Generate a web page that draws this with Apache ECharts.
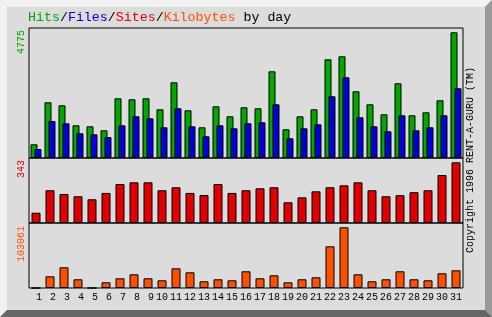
<!DOCTYPE html>
<html>
<head>
<meta charset="utf-8">
<script src="https://cdn.jsdelivr.net/npm/echarts@6/dist/echarts.min.js"></script>
<style>
html,body{margin:0;padding:0;background:#dcdcdc;}
#c{width:492px;height:317px;}
</style>
</head>
<body>
<div id="c"></div>
<script>
const days = ['1','2','3','4','5','6','7','8','9','10','11','12','13','14','15','16','17','18','19','20','21','22','23','24','25','26','27','28','29','30','31'];
const hits = [520, 2116, 2002, 1242, 1204, 1052, 2268, 2230, 2268, 1850, 2876, 1812, 1166, 1964, 1584, 1926, 1888, 3294, 1090, 1584, 1850, 3750, 3864, 2534, 2040, 1660, 2838, 1622, 1736, 2192, 4775];
const files = [342, 1406, 1318, 938, 900, 798, 1242, 1584, 1508, 1166, 1888, 1204, 824, 1242, 1128, 1318, 1356, 2040, 748, 1128, 1280, 2344, 3066, 1546, 1204, 1014, 1622, 1052, 1166, 1622, 2648];
const sites = [58, 185, 164, 151, 134, 170, 220, 230, 230, 185, 202, 170, 158, 220, 170, 185, 196, 202, 117, 145, 179, 202, 213, 230, 185, 151, 157, 174, 185, 271, 343];
const kbytes = [0, 19870, 35150, 14770, 0, 9680, 16470, 23260, 16470, 13070, 33450, 26660, 11380, 14770, 13070, 28360, 16470, 21560, 9680, 14770, 18170, 70800, 103061, 23260, 11380, 14770, 28360, 14770, 13070, 24960, 30050];
const maxLabels = [String(Math.max(...hits)), String(Math.max(...sites)), String(Math.max(...kbytes))];
const titleParts = ['Hits', 'Files', 'Sites', 'Kilobytes', ' by day'];
const sideText = 'Copyright 1996 RENT-A-GURU (TM)';

const C = {hits:'#00a800', files:'#0000d8', sites:'#e00000', kb:'#ff5000'};
const mono = '"Liberation Mono", "DejaVu Sans Mono", monospace';
const chart = echarts.init(document.getElementById('c'), null, {renderer:'canvas'});

const L = 29, W = 434;
const grids = [
  {left:L, top:28, width:W, height:130},
  {left:L, top:158, width:W, height:65},
  {left:L, top:223, width:W, height:65}
].map(g => Object.assign(g, {show:true, borderColor:'#000', borderWidth:1, backgroundColor:'transparent', containLabel:false}));

function xAx(i, showLabel){
  return {type:'category', gridIndex:i, data:days, boundaryGap:true,
    axisLine:{show:false}, axisTick:{show:false}, splitLine:{show:false},
    axisLabel:{show:showLabel, color:'#000', fontFamily:mono, fontSize:10, margin:4, interval:0,
      formatter: v => v.length < 2 ? ' ' + v : v}};
}
function yAx(i, max){
  return {type:'value', gridIndex:i, min:0, max:max, axisLine:{show:false}, axisTick:{show:false},
    splitLine:{show:false}, axisLabel:{show:false}};
}
const bStyle = c => ({color:c, borderColor:'#000', borderWidth:1});

const option = {
  backgroundColor:'#dcdcdc',
  animation:false,
  title:{
    left:28, top:11, padding:0,
    text: `{g|${titleParts[0]}}{k|/}{b|${titleParts[1]}}{k|/}{r|${titleParts[2]}}{k|/}{o|${titleParts[3]}}{k|${titleParts[4]}}`,
    textStyle:{fontFamily:mono, fontSize:13.3, fontWeight:'normal',
      rich:{
        g:{color:C.hits, fontFamily:mono, fontSize:13.3},
        b:{color:C.files, fontFamily:mono, fontSize:13.3},
        r:{color:C.sites, fontFamily:mono, fontSize:13.3},
        o:{color:C.kb, fontFamily:mono, fontSize:13.3},
        k:{color:'#000', fontFamily:mono, fontSize:13.3}
      }}
  },
  grid: grids,
  xAxis:[xAx(0,false), xAx(1,false), xAx(2,true)],
  yAxis:[yAx(0, Math.max(...hits)*130/125.7), yAx(1, Math.max(...sites)*65/60.7), yAx(2, Math.max(...kbytes)*65/60.7)],
  series:[
    {type:'bar', name:'Hits', xAxisIndex:0, yAxisIndex:0, data:hits, barWidth:7, barGap:'-43%', itemStyle:bStyle(C.hits)},
    {type:'bar', name:'Files', xAxisIndex:0, yAxisIndex:0, data:files, barWidth:7, barGap:'-43%', itemStyle:bStyle(C.files)},
    {type:'bar', name:'Sites', xAxisIndex:1, yAxisIndex:1, data:sites, barWidth:9, itemStyle:bStyle(C.sites)},
    {type:'bar', name:'Kilobytes', xAxisIndex:2, yAxisIndex:2, data:kbytes, barWidth:9, itemStyle:bStyle(C.kb)}
  ],
  graphic:[
    {type:'polygon', z:0, shape:{points:[[0,0],[492,0],[485,7],[7,7]]}, style:{fill:'#f2f2f2'}},
    {type:'polygon', z:0, shape:{points:[[0,0],[7,7],[7,310],[0,317]]}, style:{fill:'#f2f2f2'}},
    {type:'polygon', z:0, shape:{points:[[492,0],[492,317],[485,310],[485,7]]}, style:{fill:'#999999'}},
    {type:'polygon', z:0, shape:{points:[[0,317],[7,310],[485,310],[492,317]]}, style:{fill:'#666666'}},
    {type:'text', z:5, x:21.5, y:30, rotation:Math.PI/2, style:{text:maxLabels[0], fill:C.hits, font:'10px ' + mono, align:'right', verticalAlign:'middle'}},
    {type:'text', z:5, x:21.5, y:160, rotation:Math.PI/2, style:{text:maxLabels[1], fill:C.sites, font:'10px ' + mono, align:'right', verticalAlign:'middle'}},
    {type:'text', z:5, x:21.5, y:226, rotation:Math.PI/2, style:{text:maxLabels[2], fill:C.kb, font:'10px ' + mono, align:'right', verticalAlign:'middle'}},
    {type:'text', z:5, x:470, y:160, rotation:Math.PI/2, style:{text:sideText, fill:'#000', font:'10px ' + mono, align:'center', verticalAlign:'middle'}}
  ]
};
chart.setOption(option);
</script>
</body>
</html>
